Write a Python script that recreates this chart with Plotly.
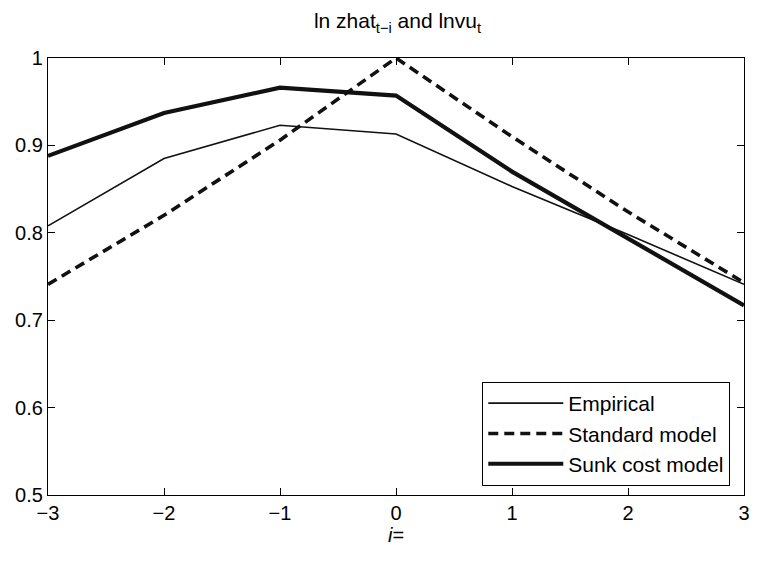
import plotly.graph_objects as go

i_vals = [-3, -2, -1, 0, 1, 2, 3]
empirical = [0.808, 0.885, 0.923, 0.913, 0.853, 0.798, 0.741]
standard = [0.741, 0.820, 0.906, 1.000, 0.910, 0.824, 0.743]
sunk = [0.888, 0.937, 0.966, 0.957, 0.870, 0.793, 0.717]

x_ticks = [-3, -2, -1, 0, 1, 2, 3]
x_ticklabels = ["\u22123", "\u22122", "\u22121", "0", "1", "2", "3"]
y_ticks = [0.5, 0.6, 0.7, 0.8, 0.9, 1.0]
y_ticklabels = ["0.5", "0.6", "0.7", "0.8", "0.9", "1"]

FONT = "Liberation Sans Narrow, Liberation Sans, Arial, sans-serif"

# page body has an 8px default margin; size the figure to fill the rest of the window
W, H = 749, 554

fig = go.Figure()
fig.add_trace(go.Scatter(x=i_vals, y=empirical, mode="lines", name="Empirical",
                         line=dict(color="#111111", width=1.6)))
fig.add_trace(go.Scatter(x=i_vals, y=standard, mode="lines", name="Standard model",
                         line=dict(color="#111111", width=3.6, dash="10px,6px")))
fig.add_trace(go.Scatter(x=i_vals, y=sunk, mode="lines", name="Sunk cost model",
                         line=dict(color="#111111", width=4.2)))

axis_common = dict(showgrid=False, zeroline=False, showline=True, linecolor="black",
                   linewidth=1.2, mirror="ticks", ticks="inside", ticklen=7,
                   tickcolor="black", tickfont=dict(family=FONT, size=20, color="black"))

ml, mr, mt, mb = 37, 7, 50, 67
fig.update_layout(
    width=W, height=H,
    margin=dict(l=ml, r=mr, t=mt, b=mb),
    paper_bgcolor="white", plot_bgcolor="white",
    font=dict(family=FONT, size=20, color="black"),
    title=dict(text="ln zhat<sub>t\u2212i</sub> and lnvu<sub>t</sub>",
               x=(ml + (W - mr)) / 2 / W, xanchor="center", y=0.99, yanchor="top",
               font=dict(family=FONT, size=21, color="black")),
    xaxis=dict(range=[-3, 3], tickvals=x_ticks, ticktext=x_ticklabels,
               ticklabeloverflow="allow",
               title=dict(text="<i>i</i>=", standoff=2,
                          font=dict(family=FONT, size=20, color="black")),
               **axis_common),
    yaxis=dict(range=[0.5, 1.0], tickvals=y_ticks, ticktext=y_ticklabels, **axis_common),
    legend=dict(x=0.98, xanchor="right", y=0.021, yanchor="bottom",
                bordercolor="black", borderwidth=1.2, bgcolor="white",
                font=dict(family=FONT, size=21, color="black"),
                itemwidth=75, tracegroupgap=0),
    showlegend=True,
)

fig.write_html("out.html")
